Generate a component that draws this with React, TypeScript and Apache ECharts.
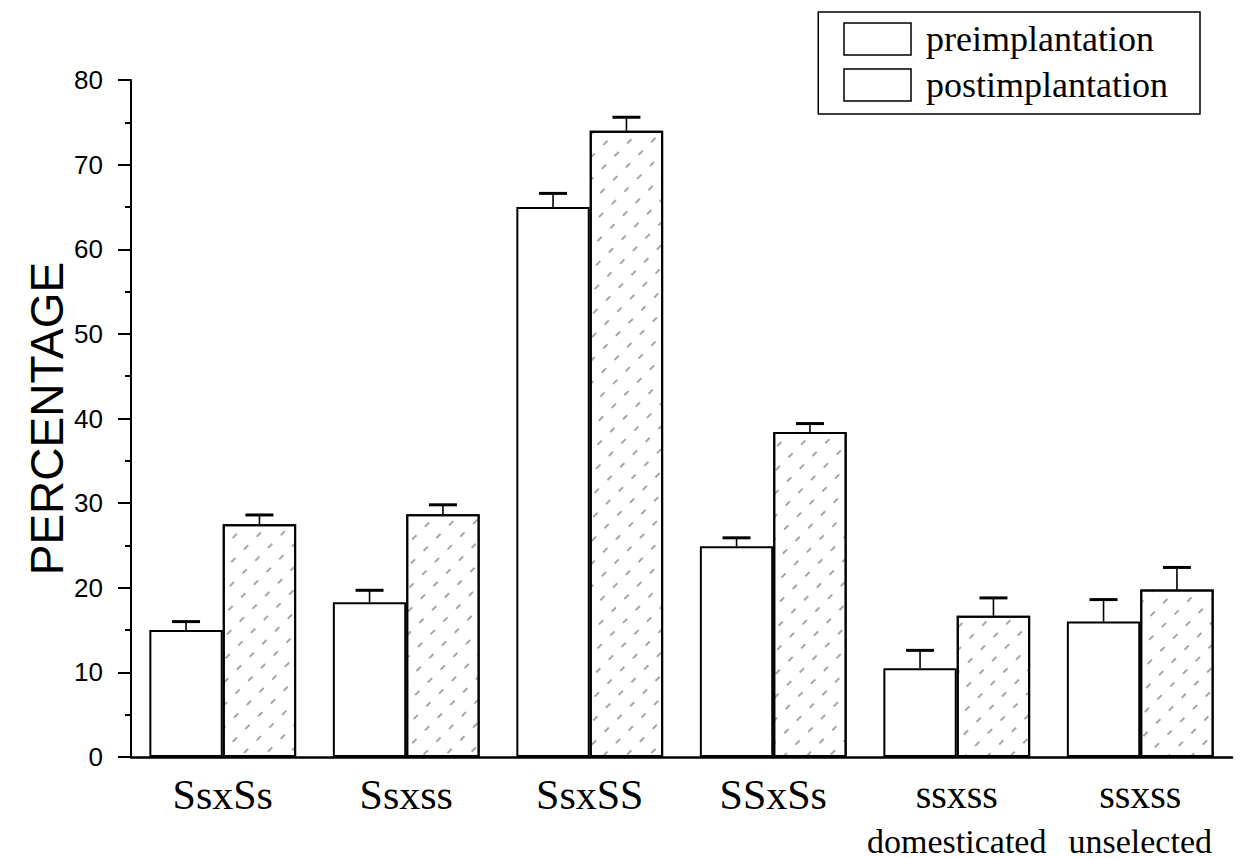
import React, { useEffect, useRef } from "react";
import * as echarts from "echarts";

const categories = ["SsxSs", "Ssxss", "SsxSS", "SSxSs", "ssxss|domesticated", "ssxss|unselected"];
const seriesNames = ["preimplantation", "postimplantation"];
const preValues = [15.0, 18.3, 65.0, 24.9, 10.5, 16.0];
const postValues = [27.5, 28.7, 74.0, 38.4, 16.7, 19.8];
const preErrors = [1.0, 1.4, 1.6, 1.0, 2.1, 2.6];
const postErrors = [1.1, 1.1, 1.6, 1.0, 2.1, 2.6];
const yTicks = { min: 0, max: 80, interval: 10 };

const SERIF = "'Liberation Serif', 'Times New Roman', serif";
const SANS = "'Liberation Sans', Arial, sans-serif";

export default function App() {
  const ref = useRef<HTMLDivElement>(null);
  useEffect(() => {
    if (!ref.current) return;
    const chart = echarts.init(ref.current, undefined, { renderer: "svg" });

    const errData = (vals: number[], errs: number[]) =>
      vals.map((v, i) => [i, v, errs[i]]);

    const makeErr = (name: string, vals: number[], errs: number[], offset: number) => ({
      type: "custom",
      name,
      z: 5,
      encode: { x: 0, y: 1 },
      data: errData(vals, errs),
      renderItem: (params: any, api: any) => {
        const idx = api.value(0);
        const v = api.value(1);
        const e = api.value(2);
        const base = api.coord([idx, v]);
        const top = api.coord([idx, v + e]);
        const band = api.size([1, 0])[0];
        const x = base[0] + offset * band;
        return {
          type: "group",
          children: [
            {
              type: "line",
              shape: { x1: x, y1: base[1], x2: x, y2: top[1] },
              style: { stroke: "#000", lineWidth: 1.6 },
            },
            {
              type: "line",
              shape: { x1: x - 14, y1: top[1], x2: x + 14, y2: top[1] },
              style: { stroke: "#000", lineWidth: 3 },
            },
          ],
        };
      },
    });

    chart.setOption({
      animation: false,
      backgroundColor: "#fff",
      grid: { left: 131, right: 11, top: 80, bottom: 101, containLabel: false },
      legend: {
        orient: "vertical",
        right: 43,
        top: 12,
        borderColor: "#000",
        borderWidth: 1.5,
        padding: [9, 32, 11, 25],
        itemGap: 10,
        itemWidth: 67,
        itemHeight: 32,
        icon: "rect",
        selectedMode: false,
        textStyle: {
          fontFamily: SERIF,
          fontSize: 36,
          color: "#000",
          lineHeight: 32,
          padding: [0, 0, 0, 10],
        },
        data: seriesNames.map((n) => ({
          name: n,
          itemStyle: { color: "#fff", borderColor: "#000", borderWidth: 1.5, decal: "none" },
        })),
      },
      xAxis: {
        type: "category",
        data: categories,
        axisLine: { show: true, lineStyle: { color: "#000", width: 2.5 } },
        axisTick: { show: false },
        axisLabel: {
          interval: 0,
          margin: 14,
          color: "#000",
          formatter: (val: string) => {
            const parts = val.split("|");
            if (parts.length === 1) return "{a|" + parts[0] + "}";
            return "{b|" + parts[0] + "}\n{c|" + parts[1] + "}";
          },
          rich: {
            a: { fontFamily: SERIF, fontSize: 42, lineHeight: 48, color: "#000" },
            b: { fontFamily: SERIF, fontSize: 40, lineHeight: 46, color: "#000" },
            c: { fontFamily: SERIF, fontSize: 34, lineHeight: 48, color: "#000" },
          },
        },
        splitLine: { show: false },
      },
      yAxis: {
        type: "value",
        min: yTicks.min,
        max: yTicks.max,
        interval: yTicks.interval,
        name: "PERCENTAGE",
        nameLocation: "middle",
        nameRotate: 90,
        nameGap: 61,
        nameMoveOverlap: false,
        nameTextStyle: { fontFamily: SANS, fontSize: 46, color: "#000" },
        axisLine: { show: true, lineStyle: { color: "#000", width: 2 } },
        axisTick: { show: true, inside: false, length: 13, lineStyle: { color: "#000", width: 2 } },
        minorTick: { show: true, splitNumber: 2, length: 6, lineStyle: { color: "#000", width: 2 } },
        axisLabel: { margin: 28, fontFamily: SANS, fontSize: 26, color: "#000" },
        splitLine: { show: false },
        minorSplitLine: { show: false },
      },
      series: [
        {
          type: "bar",
          name: seriesNames[0],
          data: preValues,
          barGap: "0%",
          barCategoryGap: "20%",
          itemStyle: { color: "#fff", borderColor: "#000", borderWidth: 2 },
        },
        {
          type: "bar",
          name: seriesNames[1],
          data: postValues,
          barGap: "0%",
          barCategoryGap: "20%",
          itemStyle: {
            color: "#fff",
            borderColor: "#000",
            borderWidth: 2,
            decal: {
              symbol: "rect",
              color: "rgba(0,0,0,0.35)",
              dashArrayX: [[6, 12]],
              dashArrayY: [1.2, 14],
              rotation: -Math.PI / 4,
            },
          },
        },
        makeErr("preErr", preValues, preErrors, -0.2),
        makeErr("postErr", postValues, postErrors, 0.2),
      ],
    });
    return () => chart.dispose();
  }, []);

  return (
    <div
      ref={ref}
      style={{ position: "fixed", left: 0, top: 0, width: 1243, height: 858, background: "#fff" }}
    />
  );
}
